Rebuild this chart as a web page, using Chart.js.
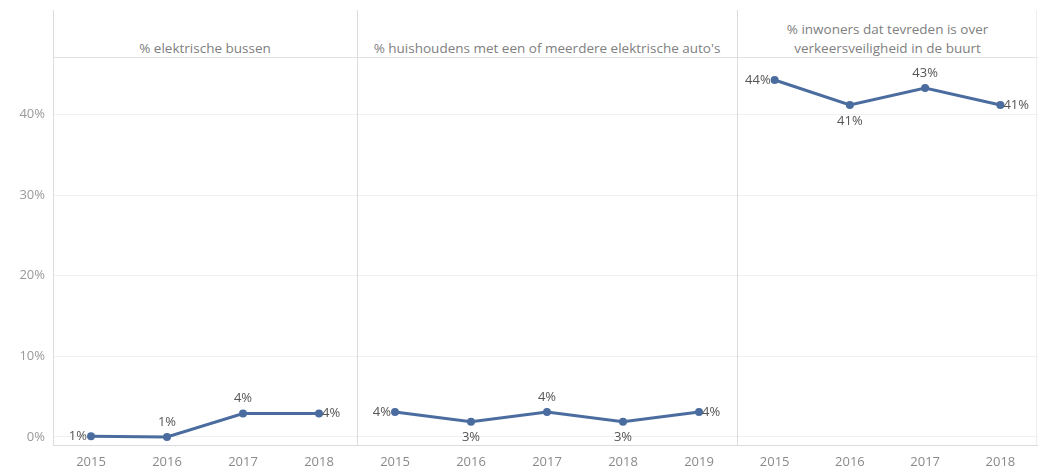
<!DOCTYPE html>
<html>
<head>
<meta charset="utf-8">
<script src="https://cdn.jsdelivr.net/npm/chart.js@4"></script>
<style>
  body { margin: 0; background: #fff; font-family: "Open Sans", sans-serif; }
  #wrap { position: relative; width: 1038px; height: 469px; overflow: hidden; }
  .cv { position: absolute; top: 59px; }
  .vline { position: absolute; top: 10px; width: 1px; height: 435px; background: #dcdcdc; }
  .hline { position: absolute; left: 53px; top: 57px; width: 985px; height: 1px; background: #e2e2e2; }
  .title { position: absolute; text-align: center; color: #808080; font-size: 13.5px; line-height: 19px; }
</style>
</head>
<body>
<div id="wrap">
  <div class="title" style="left:53px;width:304px;top:39px;">% elektrische bussen</div>
  <div class="title" style="left:357px;width:380px;top:39px;">% huishoudens met een of meerdere elektrische auto's</div>
  <div class="title" style="left:737px;width:301px;top:20px;">% inwoners dat tevreden is over<br>verkeersveiligheid in de buurt</div>
  <canvas id="c1" class="cv" style="left:0px" width="357" height="410"></canvas>
  <canvas id="c2" class="cv" style="left:357px" width="380" height="410"></canvas>
  <canvas id="c3" class="cv" style="left:737px" width="301" height="410"></canvas>
  <div class="hline"></div>
  <div class="vline" style="left:53px"></div>
  <div class="vline" style="left:357px"></div>
  <div class="vline" style="left:737px"></div>
  <div class="vline" style="left:1036px;background:#eee"></div>
</div>
<script>
var yearsBussen = ['2015', '2016', '2017', '2018'];
var valuesBussen = [0.1, 0.0, 2.9, 2.9];
var labelsBussen = ['1%', '1%', '4%', '4%'];

var yearsAutos = ['2015', '2016', '2017', '2018', '2019'];
var valuesAutos = [3.1, 1.9, 3.1, 1.9, 3.1];
var labelsAutos = ['4%', '3%', '4%', '3%', '4%'];

var yearsVeilig = ['2015', '2016', '2017', '2018'];
var valuesVeilig = [44.3, 41.2, 43.3, 41.2];
var labelsVeilig = ['44%', '41%', '43%', '41%'];

var yTicks = [0, 10, 20, 30, 40];

var lineColor = '#4b6c9f';

var pointLabels = {
    id: 'pointLabels',
    afterDatasetsDraw: function(chart) {
        var ctx = chart.ctx;
        var opts = chart.options.plugins.pointLabels;
        var meta = chart.getDatasetMeta(0);
        ctx.save();
        ctx.font = '13px "Open Sans", sans-serif';
        ctx.fillStyle = '#555';
        meta.data.forEach(function(pt, i) {
            var pos = opts.pos[i];
            var txt = opts.texts[i];
            ctx.textBaseline = 'middle';
            if (pos == 'left') {
                ctx.textAlign = 'right';
                ctx.fillText(txt, pt.x - 4, pt.y);
            } else if (pos == 'right') {
                ctx.textAlign = 'left';
                ctx.fillText(txt, pt.x + 3, pt.y);
            } else if (pos == 'top') {
                ctx.textAlign = 'center';
                ctx.fillText(txt, pt.x, pt.y - 15);
            } else {
                ctx.textAlign = 'center';
                ctx.fillText(txt, pt.x, pt.y + 16);
            }
        });
        ctx.restore();
    }
};

function makeChart(id, years, values, texts, pos, showY) {
    return new Chart(document.getElementById(id), {
        type: 'line',
        data: {
            labels: years,
            datasets: [{
                data: values,
                borderColor: lineColor,
                backgroundColor: lineColor,
                borderWidth: 3,
                pointRadius: 2.5,
                pointHoverRadius: 2.5,
                tension: 0
            }]
        },
        options: {
            responsive: false,
            animation: false,
            layout: { padding: 0, autoPadding: false },
            plugins: {
                legend: { display: false },
                tooltip: { enabled: false },
                pointLabels: { texts: texts, pos: pos }
            },
            scales: {
                x: {
                    offset: true,
                    grid: { display: false, drawTicks: false },
                    border: { display: true, color: '#dcdcdc' },
                    ticks: { color: '#8a8a8a', font: { size: 13, family: '"Open Sans", sans-serif' }, padding: 9, maxRotation: 0 },
                    afterFit: function(s) { s.height = 24; }
                },
                y: {
                    min: -1,
                    max: 46.9,
                    border: { display: false },
                    grid: { color: '#f0f0f0', drawTicks: false },
                    ticks: {
                        display: showY,
                        color: '#999',
                        padding: 8,
                        font: { size: 13, family: '"Open Sans", sans-serif' },
                        callback: function(v) { return v + '%'; }
                    },
                    afterBuildTicks: function(s) {
                        s.ticks = yTicks.map(function(v) { return { value: v }; });
                    },
                    afterFit: function(s) {
                        s.width = showY ? 53 : 0;
                        s.paddingTop = 0;
                        s.paddingBottom = 0;
                    }
                }
            }
        },
        plugins: [pointLabels]
    });
}

makeChart('c1', yearsBussen, valuesBussen, labelsBussen, ['left', 'top', 'top', 'right'], true);
makeChart('c2', yearsAutos, valuesAutos, labelsAutos, ['left', 'bottom', 'top', 'bottom', 'right'], false);
makeChart('c3', yearsVeilig, valuesVeilig, labelsVeilig, ['left', 'bottom', 'top', 'right'], false);
</script>
</body>
</html>
